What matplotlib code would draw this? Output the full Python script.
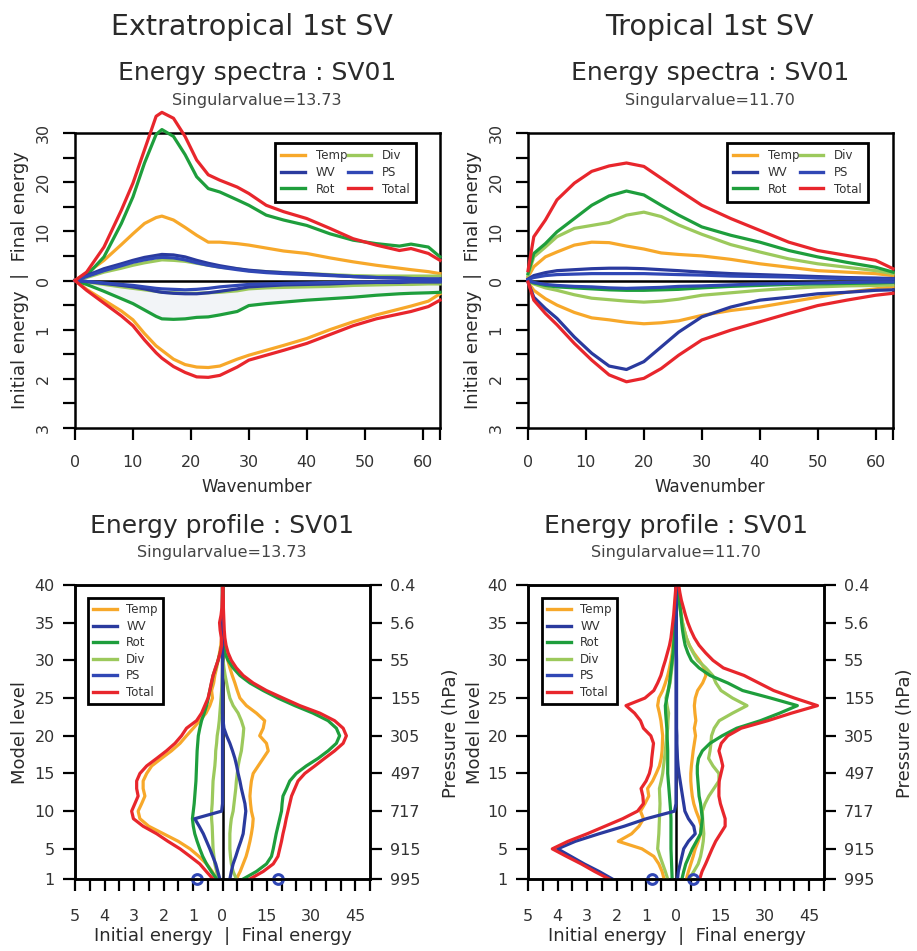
import numpy as np
import matplotlib
matplotlib.use("Agg")
import matplotlib.pyplot as plt
from matplotlib.lines import Line2D

plt.rcParams.update({"font.family": "DejaVu Sans", "axes.linewidth": 1.8})

W, H = 917, 951

# ---------- data: energy spectra (wavenumber) ----------
K_EX = [0, 2, 5, 8, 10, 12, 14, 15, 17, 19, 21, 23, 25, 28, 30, 33, 36, 40, 44, 48, 52, 56, 58, 61, 63]
EX_TEMP_FIN = [0, 1.5, 4.1, 7.3, 9.5, 11.6, 12.8, 13.1, 12.3, 10.8, 9.2, 7.8, 7.8, 7.5, 7.2, 6.6, 6.0, 5.5, 4.6, 3.8, 3.1, 2.5, 2.2, 1.8, 1.4]
EX_WV_FIN = [0, 1.0, 2.4, 3.4, 4.1, 4.7, 5.1, 5.3, 5.2, 4.8, 4.1, 3.5, 3.0, 2.4, 2.1, 1.8, 1.6, 1.4, 1.1, 0.8, 0.6, 0.5, 0.4, 0.3, 0.3]
EX_ROT_FIN = [0, 1.0, 4.8, 11.6, 17.0, 23.9, 29.7, 30.7, 29.3, 25.6, 21.1, 18.7, 18.0, 16.4, 15.3, 13.3, 12.3, 11.2, 9.5, 8.2, 7.5, 7.0, 7.4, 6.8, 4.8]
EX_DIV_FIN = [0, 0.6, 1.7, 2.5, 3.1, 3.6, 4.0, 4.2, 4.1, 3.9, 3.5, 3.1, 2.7, 2.4, 2.0, 1.8, 1.6, 1.4, 1.2, 1.0, 0.9, 0.9, 0.9, 0.9, 0.9]
EX_PS_FIN = [0, 0.8, 2.0, 3.0, 3.7, 4.2, 4.6, 4.7, 4.6, 4.2, 3.6, 3.1, 2.7, 2.2, 1.9, 1.6, 1.4, 1.2, 1.0, 0.8, 0.6, 0.5, 0.4, 0.3, 0.3]
EX_TOTAL_FIN = [0, 1.7, 6.8, 14.3, 19.8, 26.6, 33.4, 34.2, 33.0, 29.3, 24.5, 21.5, 20.4, 19.0, 17.7, 15.3, 14.0, 12.6, 10.6, 8.5, 7.2, 6.1, 6.5, 5.5, 4.1]
EX_TEMP_INI = [0, 0.18, 0.40, 0.62, 0.80, 1.08, 1.33, 1.42, 1.60, 1.71, 1.76, 1.77, 1.74, 1.60, 1.52, 1.42, 1.32, 1.18, 1.00, 0.84, 0.70, 0.58, 0.52, 0.42, 0.27]
EX_WV_INI = [0, 0.02, 0.06, 0.10, 0.13, 0.17, 0.22, 0.24, 0.26, 0.27, 0.27, 0.25, 0.22, 0.17, 0.13, 0.11, 0.09, 0.08, 0.07, 0.05, 0.04, 0.04, 0.03, 0.03, 0.03]
EX_ROT_INI = [0, 0.08, 0.22, 0.37, 0.47, 0.60, 0.73, 0.78, 0.79, 0.78, 0.75, 0.74, 0.70, 0.63, 0.51, 0.47, 0.44, 0.40, 0.37, 0.34, 0.30, 0.27, 0.26, 0.25, 0.24]
EX_DIV_INI = [0, 0.03, 0.08, 0.13, 0.16, 0.19, 0.22, 0.24, 0.25, 0.26, 0.26, 0.25, 0.24, 0.21, 0.17, 0.15, 0.14, 0.13, 0.12, 0.10, 0.09, 0.08, 0.08, 0.07, 0.07]
EX_PS_INI = [0, 0.02, 0.05, 0.08, 0.10, 0.13, 0.16, 0.17, 0.18, 0.19, 0.18, 0.16, 0.13, 0.10, 0.08, 0.07, 0.06, 0.05, 0.04, 0.03, 0.03, 0.02, 0.02, 0.02, 0.02]
EX_TOTAL_INI = [0, 0.20, 0.46, 0.72, 0.92, 1.21, 1.47, 1.58, 1.75, 1.87, 1.96, 1.97, 1.93, 1.76, 1.62, 1.52, 1.42, 1.28, 1.10, 0.92, 0.78, 0.68, 0.63, 0.53, 0.40]

K_TR = [0, 1, 3, 5, 8, 11, 14, 17, 20, 23, 26, 30, 35, 40, 45, 50, 55, 60, 63]
TR_TEMP_FIN = [0.7, 2.8, 4.8, 5.8, 7.2, 7.8, 7.7, 7.0, 6.4, 5.6, 5.3, 5.0, 4.3, 3.4, 2.7, 2.0, 1.7, 1.4, 1.0]
TR_WV_FIN = [0.3, 1.0, 1.6, 2.0, 2.2, 2.4, 2.5, 2.5, 2.4, 2.2, 2.0, 1.7, 1.4, 1.2, 1.0, 0.8, 0.6, 0.5, 0.4]
TR_ROT_FIN = [1.4, 5.5, 7.5, 9.9, 12.6, 15.3, 17.2, 18.2, 17.4, 15.3, 13.3, 10.9, 9.2, 7.8, 6.1, 4.8, 3.7, 2.7, 1.7]
TR_DIV_FIN = [1.0, 4.8, 6.8, 8.9, 10.6, 11.2, 11.8, 13.3, 13.9, 13.0, 11.3, 9.4, 7.3, 5.8, 4.4, 3.4, 2.7, 2.0, 1.4]
TR_PS_FIN = [0.2, 0.6, 1.0, 1.2, 1.3, 1.4, 1.4, 1.4, 1.4, 1.3, 1.2, 1.1, 0.9, 0.8, 0.7, 0.5, 0.4, 0.3, 0.3]
TR_TOTAL_FIN = [2.0, 8.9, 12.3, 16.4, 19.8, 22.2, 23.3, 23.9, 23.2, 20.8, 18.4, 15.3, 12.6, 10.2, 7.8, 6.1, 5.1, 4.1, 2.4]
TR_TEMP_INI = [0.03, 0.20, 0.37, 0.50, 0.65, 0.76, 0.80, 0.85, 0.88, 0.86, 0.82, 0.71, 0.61, 0.54, 0.44, 0.34, 0.24, 0.17, 0.13]
TR_WV_INI = [0.03, 0.34, 0.57, 0.77, 1.15, 1.48, 1.74, 1.81, 1.65, 1.35, 1.05, 0.74, 0.54, 0.40, 0.34, 0.27, 0.24, 0.20, 0.19]
TR_ROT_INI = [0, 0.05, 0.10, 0.13, 0.15, 0.17, 0.19, 0.20, 0.20, 0.19, 0.18, 0.15, 0.12, 0.10, 0.08, 0.07, 0.06, 0.05, 0.04]
TR_DIV_INI = [0.01, 0.07, 0.15, 0.20, 0.29, 0.36, 0.39, 0.42, 0.44, 0.42, 0.38, 0.30, 0.25, 0.20, 0.16, 0.13, 0.11, 0.10, 0.09]
TR_PS_INI = [0, 0.04, 0.08, 0.10, 0.12, 0.13, 0.15, 0.16, 0.15, 0.14, 0.12, 0.11, 0.09, 0.07, 0.06, 0.05, 0.04, 0.03, 0.03]
TR_TOTAL_INI = [0.03, 0.40, 0.67, 0.90, 1.28, 1.62, 1.92, 2.06, 1.99, 1.79, 1.52, 1.21, 1.01, 0.84, 0.67, 0.51, 0.40, 0.30, 0.26]

# ---------- data: energy profiles (model level 1..40) ----------
LEV = list(range(1, 41))
EXP_TEMP_INI = [0.20, 0.35, 0.54, 0.80, 1.10, 1.50, 2.00, 2.50, 2.80, 2.86, 2.74, 2.63, 2.69, 2.69, 2.57, 2.40, 2.07, 1.73, 1.44, 1.22,
                0.99, 0.77, 0.56, 0.43, 0.34, 0.37, 0.30, 0.26, 0.20, 0.15, 0.10, 0.06, 0.03, 0.02, 0.01, 0, 0, 0, 0, 0]
EXP_TEMP_FIN = [4.7, 6.0, 7.0, 8.0, 8.7, 9.3, 9.8, 10.2, 10.4, 9.8, 9.5, 9.3, 9.5, 9.8, 10.4, 12.1, 13.8, 15.5, 14.9, 12.6,
                13.8, 14.3, 11.5, 8.1, 5.9, 5.0, 4.2, 3.3, 2.5, 1.8, 1.1, 0.8, 0.5, 0.3, 0.2, 0.1, 0.1, 0.1, 0.1, 0.1]
EXP_WV_INI = [0.09, 0.16, 0.23, 0.33, 0.43, 0.54, 0.65, 0.79, 0.94, 0.03, 0, 0, 0, 0, 0, 0, 0, 0, 0, 0,
              0, 0, 0, 0, 0, 0, 0, 0, 0, 0, 0, 0, 0, 0, 0, 0, 0, 0, 0, 0]
EXP_WV_FIN = [2.5, 3.0, 3.6, 4.5, 5.3, 6.2, 7.0, 7.3, 7.6, 7.9, 7.6, 7.0, 6.4, 5.9, 5.3, 4.8, 4.2, 3.4, 2.5, 1.4,
              0.5, 0.2, 0, 0, 0, 0, 0, 0, 0, 0, 0, 0, 0, 0, 0, 0, 0, 0, 0, 0]
EXP_ROT_INI = [0.20, 0.38, 0.54, 0.67, 0.77, 0.86, 0.94, 0.99, 1.02, 0.99, 0.96, 0.94, 0.92, 0.90, 0.89, 0.88, 0.87, 0.86, 0.84, 0.82,
               0.77, 0.71, 0.62, 0.54, 0.48, 0.43, 0.37, 0.32, 0.23, 0.15, 0.08, 0.03, 0.01, 0, 0, 0, 0, 0, 0, 0]
EXP_ROT_FIN = [7.0, 11.5, 14.9, 16.6, 17.2, 17.7, 18.2, 18.8, 19.4, 20.0, 20.2, 20.5, 21.7, 22.8, 25.0, 28.4, 32.4, 35.8, 38.6, 39.7,
               38.6, 35.8, 30.7, 24.5, 18.8, 13.8, 9.3, 5.9, 3.6, 1.9, 0.8, 0.4, 0.2, 0.1, 0.1, 0.1, 0.1, 0.1, 0.1, 0.1]
EXP_DIV_INI = [0.15, 0.20, 0.26, 0.29, 0.32, 0.33, 0.34, 0.35, 0.37, 0.37, 0.35, 0.34, 0.33, 0.32, 0.29, 0.26, 0.24, 0.23, 0.20, 0.18,
               0.14, 0.11, 0.09, 0.07, 0.05, 0.03, 0.02, 0.01, 0, 0, 0, 0, 0, 0, 0, 0, 0, 0, 0, 0]
EXP_DIV_FIN = [4.7, 3.6, 3.0, 2.7, 2.5, 2.5, 2.5, 2.7, 3.0, 3.6, 3.9, 4.2, 4.5, 4.7, 5.0, 5.3, 5.8, 6.4, 6.7, 7.0,
               7.2, 6.4, 5.3, 3.6, 2.5, 1.9, 1.4, 0.9, 0.5, 0.2, 0, 0, 0, 0, 0, 0, 0, 0, 0, 0]
EXP_TOTAL_INI = [0.32, 0.55, 0.77, 1.10, 1.44, 1.85, 2.23, 2.69, 3.02, 3.08, 2.97, 2.86, 2.91, 2.91, 2.80, 2.57, 2.23, 1.90, 1.61, 1.39,
                 1.22, 0.88, 0.71, 0.60, 0.49, 0.43, 0.38, 0.32, 0.24, 0.15, 0.08, 0.03, 0.04, 0.08, 0.10, 0.05, 0.02, 0.01, 0, 0]
EXP_TOTAL_FIN = [9.3, 13.8, 17.2, 18.8, 19.4, 20.0, 20.5, 21.1, 21.6, 22.2, 22.8, 23.4, 24.5, 25.6, 27.9, 31.3, 34.6, 38.0, 40.9, 42.0,
                 40.9, 38.0, 33.0, 26.2, 20.5, 14.9, 10.4, 7.0, 4.7, 3.0, 1.9, 1.2, 0.8, 0.6, 0.5, 0.4, 0.3, 0.3, 0.2, 0.2]
EXP_PS = (0.88, 18.7)  # surface pressure: initial, final

TRP_TEMP_INI = [0.40, 0.47, 0.58, 0.75, 1.15, 1.95, 1.50, 1.25, 1.10, 1.20, 1.05, 0.92, 0.96, 0.79, 0.67, 0.56, 0.50, 0.47, 0.46, 0.45,
                0.48, 0.51, 0.56, 0.62, 0.58, 0.45, 0.36, 0.28, 0.22, 0.17, 0.13, 0.11, 0.09, 0.07, 0.05, 0.04, 0.03, 0.02, 0.01, 0]
TRP_TEMP_FIN = [3.5, 4.2, 5.0, 5.8, 6.5, 7.5, 8.3, 8.5, 7.8, 6.8, 6.0, 5.5, 5.2, 5.0, 5.0, 5.2, 5.5, 5.8, 6.2, 6.6,
                6.2, 6.7, 6.4, 6.2, 6.5, 7.3, 9.0, 10.1, 9.5, 7.9, 6.0, 4.5, 3.5, 2.8, 2.2, 1.8, 1.5, 1.1, 0.8, 0.6]
TRP_WV_INI = [2.15, 2.60, 3.10, 3.55, 4.00, 3.40, 2.60, 1.75, 1.00, 0.05, 0, 0, 0, 0, 0, 0, 0, 0, 0, 0,
              0, 0, 0, 0, 0, 0, 0, 0, 0, 0, 0, 0, 0, 0, 0, 0, 0, 0, 0, 0]
TRP_WV_FIN = [0.5, 0.8, 1.4, 2.0, 2.6, 4.2, 6.5, 6.0, 4.2, 3.0, 2.6, 2.2, 1.8, 1.4, 1.0, 0.7, 0.5, 0.4, 0.3, 0.3,
              0.2, 0.2, 0.2, 0.2, 0.2, 0.2, 0.2, 0.2, 0.2, 0.2, 0.15, 0.15, 0.15, 0.1, 0.1, 0.1, 0.1, 0.05, 0.05, 0]
TRP_ROT_INI = [0.13, 0.14, 0.15, 0.16, 0.17, 0.17, 0.17, 0.17, 0.17, 0.18, 0.20, 0.22, 0.24, 0.26, 0.28, 0.28, 0.28, 0.28, 0.29, 0.30,
               0.31, 0.33, 0.35, 0.36, 0.31, 0.26, 0.22, 0.19, 0.16, 0.13, 0.10, 0.08, 0.06, 0.05, 0.04, 0.03, 0.02, 0.01, 0, 0]
TRP_ROT_FIN = [2.0, 2.6, 3.3, 4.4, 5.5, 6.9, 8.3, 8.6, 8.9, 8.6, 8.3, 7.8, 7.6, 7.4, 7.2, 7.2, 7.6, 8.9, 11.5, 15.6,
               20.5, 28.5, 35.0, 41.0, 32.0, 22.5, 17.5, 11.5, 7.8, 5.2, 4.0, 3.1, 2.6, 2.2, 1.9, 1.7, 1.4, 1.0, 0.5, 0.2]
TRP_DIV_INI = [0.28, 0.36, 0.45, 0.54, 0.62, 0.60, 0.58, 0.57, 0.56, 0.55, 0.54, 0.55, 0.56, 0.50, 0.45, 0.42, 0.39, 0.36, 0.34, 0.31,
               0.28, 0.27, 0.25, 0.30, 0.34, 0.27, 0.20, 0.17, 0.14, 0.11, 0.09, 0.08, 0.07, 0.05, 0.04, 0.03, 0.02, 0.01, 0.01, 0]
TRP_DIV_FIN = [4.4, 6.0, 7.5, 8.3, 8.8, 9.2, 9.4, 9.2, 9.0, 8.9, 9.8, 11.1, 12.8, 14.5, 14.5, 12.5, 11.0, 11.5, 11.8, 12.0,
               12.9, 14.6, 19.1, 24.0, 19.1, 15.2, 13.5, 12.4, 10.1, 7.3, 5.8, 4.5, 3.5, 2.8, 2.2, 1.7, 1.3, 1.0, 0.8, 0.6]
TRP_TOTAL_INI = [2.26, 2.75, 3.20, 3.70, 4.18, 3.65, 3.00, 2.40, 1.80, 1.30, 1.10, 1.12, 1.18, 1.01, 0.90, 0.84, 0.82, 0.79, 0.76, 0.85,
                 1.10, 1.20, 1.40, 1.69, 1.05, 0.75, 0.62, 0.51, 0.44, 0.36, 0.29, 0.22, 0.17, 0.14, 0.11, 0.08, 0.06, 0.04, 0.02, 0]
TRP_TOTAL_FIN = [8.0, 8.8, 10.0, 11.1, 12.2, 13.4, 15.0, 16.6, 16.6, 15.8, 15.0, 14.5, 14.5, 14.6, 15.2, 15.8, 15.2, 14.5, 15.3, 17.5,
                 22.0, 31.0, 39.0, 47.8, 40.0, 33.0, 28.0, 23.0, 16.0, 12.5, 10.0, 7.8, 6.2, 5.0, 4.0, 3.2, 2.5, 1.8, 1.3, 0.9]
TRP_PS = (0.8, 5.6)

NAMES = ["Temp", "WV", "Rot", "Div", "PS", "Total"]
COLORS = {"Temp": "#F7A82A", "WV": "#2A3A9E", "Rot": "#1E9E3C", "Div": "#9CC95C",
          "PS": "#3047B5", "Total": "#E8262C"}
DRAW_ORDER = ["Temp", "Div", "Rot", "WV", "PS", "Total"]
LEVEL_TICKS = [1, 5, 10, 15, 20, 25, 30, 35, 40]
PRESSURE_LABELS = ["995", "915", "717", "497", "305", "155", "55", "5.6", "0.4"]

TXT = "#2a2a2a"
SUB = "#444444"
LW = 2.3

fig = plt.figure(figsize=(W / 100, H / 100), dpi=100)


def box(l, t, r, b):
    return [l / W, 1 - b / H, (r - l) / W, (b - t) / H]


def ftext(x, y, s, **kw):
    kw.setdefault("ha", "center")
    kw.setdefault("va", "center")
    kw.setdefault("color", TXT)
    fig.text(x / W, 1 - y / H, s, **kw)


def legend(ax, x, y, ncol, **kw):
    handles = [Line2D([], [], color=COLORS[n], lw=2.4) for n in NAMES]
    leg = ax.legend(handles, NAMES, ncol=ncol, loc="upper left",
                    bbox_to_anchor=(x / W, 1 - y / H), bbox_transform=fig.transFigure,
                    prop={"size": 8.5}, frameon=True, fancybox=False, framealpha=1,
                    edgecolor="black", borderaxespad=0, **kw)
    leg.get_frame().set_linewidth(2.0)
    for t in leg.get_texts():
        t.set_color("#333333")
    leg.set_zorder(10)
    return leg


def spectra(l, r, k, fin, ini, shade=False):
    ax = fig.add_axes(box(l, 133, r, 428))
    k = np.asarray(k)
    if shade:
        ax.fill_between(k, -10 * np.asarray(ini["WV"]), -10 * np.asarray(ini["Rot"]),
                        color="#f2f4f7", lw=0, zorder=1)
    ax.axhline(0, color="black", lw=1.8, zorder=2)
    for n in DRAW_ORDER:
        ax.plot(k, fin[n], color=COLORS[n], lw=LW, zorder=3, clip_on=False)
        ax.plot(k, -10 * np.asarray(ini[n]), color=COLORS[n], lw=LW, zorder=3, clip_on=False)
    ax.set_xlim(0, 63)
    ax.set_ylim(-30, 30)
    ax.set_xticks(range(0, 61, 10))
    ax.set_xticks([63], minor=True)
    ax.set_yticks([-30, -20, -10, 0, 10, 20, 30])
    ax.set_yticklabels(["3", "2", "1", "0", "10", "20", "30"], rotation=90, va="center")
    ax.set_yticks([-25, -15, -5, 5, 15, 25], minor=True)
    ax.tick_params(which="both", direction="out", length=8.5, width=1.6,
                   labelsize=11.5, labelcolor="#333333")
    ax.tick_params(axis="x", pad=11)
    ax.tick_params(axis="y", pad=9)
    ax.patch.set_alpha(0)
    return ax


def profile(l, r, fin, ini, ps):
    ax = fig.add_axes(box(l, 585, r, 879))
    ax.axvline(0, color="black", lw=1.8, zorder=2)
    for n in ["Temp", "Div", "Rot", "WV", "Total"]:
        ax.plot(-np.asarray(ini[n]), LEV, color=COLORS[n], lw=LW, zorder=3)
        ax.plot(np.asarray(fin[n]) / 10, LEV, color=COLORS[n], lw=LW, zorder=3)
    ax.plot([-ps[0], ps[1] / 10], [1, 1], ls="none", marker="o", ms=7, mfc="none",
            mec=COLORS["PS"], mew=2.2, clip_on=False, zorder=5)
    ax.set_xlim(-5, 5)
    ax.set_ylim(1, 40)
    ax.set_xticks([-5, -4, -3, -2, -1, 0, 1.5, 3, 4.5])
    ax.set_xticklabels(["5", "4", "3", "2", "1", "0", "15", "30", "45"])
    ax.set_xticks([-4.5, -3.5, -2.5, -1.5, -0.5, 0.5, 1, 2, 2.5, 3.5, 4, 5], minor=True)
    ax.set_yticks(LEVEL_TICKS)
    ax.tick_params(which="both", direction="out", length=8.5, width=1.6,
                   labelsize=11.5, labelcolor="#333333")
    ax.tick_params(axis="x", pad=13)
    ax.tick_params(axis="y", pad=6)
    ax2 = ax.twinx()
    ax2.set_ylim(1, 40)
    ax2.set_yticks(LEVEL_TICKS)
    ax2.set_yticklabels(PRESSURE_LABELS)
    ax2.tick_params(direction="out", length=8.5, width=1.6, labelsize=11.5,
                    labelcolor="#333333", pad=6)
    return ax


ax1 = spectra(75, 440, K_EX,
              {"Temp": EX_TEMP_FIN, "WV": EX_WV_FIN, "Rot": EX_ROT_FIN, "Div": EX_DIV_FIN,
               "PS": EX_PS_FIN, "Total": EX_TOTAL_FIN},
              {"Temp": EX_TEMP_INI, "WV": EX_WV_INI, "Rot": EX_ROT_INI, "Div": EX_DIV_INI,
               "PS": EX_PS_INI, "Total": EX_TOTAL_INI}, shade=True)
ax2 = spectra(528, 893, K_TR,
              {"Temp": TR_TEMP_FIN, "WV": TR_WV_FIN, "Rot": TR_ROT_FIN, "Div": TR_DIV_FIN,
               "PS": TR_PS_FIN, "Total": TR_TOTAL_FIN},
              {"Temp": TR_TEMP_INI, "WV": TR_WV_INI, "Rot": TR_ROT_INI, "Div": TR_DIV_INI,
               "PS": TR_PS_INI, "Total": TR_TOTAL_INI})
ax3 = profile(75, 370,
              {"Temp": EXP_TEMP_FIN, "WV": EXP_WV_FIN, "Rot": EXP_ROT_FIN, "Div": EXP_DIV_FIN,
               "Total": EXP_TOTAL_FIN},
              {"Temp": EXP_TEMP_INI, "WV": EXP_WV_INI, "Rot": EXP_ROT_INI, "Div": EXP_DIV_INI,
               "Total": EXP_TOTAL_INI}, EXP_PS)
ax4 = profile(528, 824,
              {"Temp": TRP_TEMP_FIN, "WV": TRP_WV_FIN, "Rot": TRP_ROT_FIN, "Div": TRP_DIV_FIN,
               "Total": TRP_TOTAL_FIN},
              {"Temp": TRP_TEMP_INI, "WV": TRP_WV_INI, "Rot": TRP_ROT_INI, "Div": TRP_DIV_INI,
               "Total": TRP_TOTAL_INI}, TRP_PS)

kw2 = dict(handlelength=2.0, handletextpad=0.9, columnspacing=0.05, labelspacing=0.3, borderpad=0.55)
legend(ax1, 275, 143, 2, **kw2)
legend(ax2, 727, 143, 2, **kw2)
kw1 = dict(handlelength=2.0, handletextpad=0.8, labelspacing=0.3, borderpad=0.45)
legend(ax3, 88, 598, 1, **kw1)
legend(ax4, 542, 598, 1, **kw1)

# titles and labels
ftext(252, 27, "Extratropical 1st SV", fontsize=20.5)
ftext(709, 27, "Tropical 1st SV", fontsize=20.5)
for cx, sv in [(257, "13.73"), (710, "11.70")]:
    ftext(cx, 73, "Energy spectra : SV01", fontsize=18)
    ftext(cx, 100, "Singularvalue=" + sv, fontsize=11.5, color=SUB)
    ftext(cx, 487, "Wavenumber", fontsize=12)
for cx, sv in [(222, "13.73"), (676, "11.70")]:
    ftext(cx, 526, "Energy profile : SV01", fontsize=18)
    ftext(cx, 552, "Singularvalue=" + sv, fontsize=11.5, color=SUB)
    ftext(cx + 1, 936, "Initial energy  |  Final energy", fontsize=13)
ftext(20, 280, "Initial energy  |  Final energy", fontsize=13, rotation=90)
ftext(473, 280, "Initial energy  |  Final energy", fontsize=13, rotation=90)
ftext(20, 733, "Model level", fontsize=13, rotation=90)
ftext(475, 733, "Model level", fontsize=13, rotation=90)
ftext(451, 733, "Pressure (hPa)", fontsize=13, rotation=90)
ftext(905, 733, "Pressure (hPa)", fontsize=13, rotation=90)

fig.savefig("out.png", dpi=100)
